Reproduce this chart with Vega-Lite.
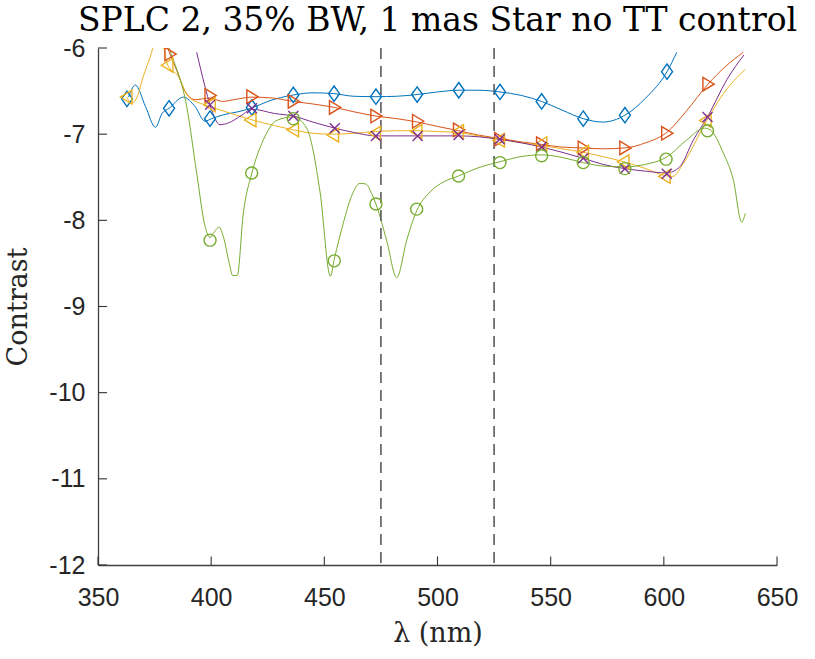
{
  "$schema": "https://vega.github.io/schema/vega-lite/v6.json",
  "width": 679,
  "height": 517,
  "autosize": "none",
  "padding": {"left": 98, "top": 48, "right": 38, "bottom": 94},
  "background": "white",
  "title": {"text": "SPLC 2, 35% BW, 1 mas Star no TT control", "font": "DejaVu Serif", "fontSize": 33, "fontWeight": "normal", "color": "#000000", "anchor": "middle", "offset": -2},
  "datasets": {
    "vlines": [{"x": 475}, {"x": 525}],
    "xticks": [{"t": 350}, {"t": 400}, {"t": 450}, {"t": 500}, {"t": 550}, {"t": 600}, {"t": 650}],
    "yticks": [{"t": -12}, {"t": -11}, {"t": -10}, {"t": -9}, {"t": -8}, {"t": -7}, {"t": -6}],
    "lines": [
      {"s": "a", "x": 363.5, "y": -6.57}, {"s": "a", "x": 366.5, "y": -6.43}, {"s": "a", "x": 371, "y": -6.68}, {"s": "a", "x": 375.4, "y": -6.92}, {"s": "a", "x": 378.3, "y": -6.76}, {"s": "a", "x": 381.4, "y": -6.7}, {"s": "a", "x": 387.7, "y": -6.57}, {"s": "a", "x": 392.9, "y": -6.68}, {"s": "a", "x": 397.3, "y": -6.85}, {"s": "a", "x": 400.2, "y": -6.82}, {"s": "a", "x": 404.7, "y": -6.78}, {"s": "a", "x": 411.9, "y": -6.74}, {"s": "a", "x": 417.6, "y": -6.7}, {"s": "a", "x": 425, "y": -6.62}, {"s": "a", "x": 436.3, "y": -6.545}, {"s": "a", "x": 445, "y": -6.52}, {"s": "a", "x": 454.3, "y": -6.53}, {"s": "a", "x": 463, "y": -6.56}, {"s": "a", "x": 472.8, "y": -6.565}, {"s": "a", "x": 482, "y": -6.56}, {"s": "a", "x": 491, "y": -6.54}, {"s": "a", "x": 500, "y": -6.51}, {"s": "a", "x": 509.4, "y": -6.49}, {"s": "a", "x": 518, "y": -6.49}, {"s": "a", "x": 527.6, "y": -6.51}, {"s": "a", "x": 537, "y": -6.55}, {"s": "a", "x": 546, "y": -6.62}, {"s": "a", "x": 555, "y": -6.72}, {"s": "a", "x": 564.4, "y": -6.82}, {"s": "a", "x": 573, "y": -6.86}, {"s": "a", "x": 582.8, "y": -6.78}, {"s": "a", "x": 592, "y": -6.58}, {"s": "a", "x": 601.4, "y": -6.275}, {"s": "a", "x": 605.7, "y": -6.05},
      {"s": "b", "x": 379.5, "y": -5.9}, {"s": "b", "x": 381.8, "y": -6.07}, {"s": "b", "x": 384.8, "y": -6.26}, {"s": "b", "x": 388.4, "y": -6.5}, {"s": "b", "x": 393, "y": -6.6}, {"s": "b", "x": 399.5, "y": -6.58}, {"s": "b", "x": 405, "y": -6.62}, {"s": "b", "x": 410, "y": -6.6}, {"s": "b", "x": 418, "y": -6.57}, {"s": "b", "x": 427, "y": -6.58}, {"s": "b", "x": 436.3, "y": -6.62}, {"s": "b", "x": 445, "y": -6.65}, {"s": "b", "x": 454.5, "y": -6.69}, {"s": "b", "x": 463, "y": -6.74}, {"s": "b", "x": 472.8, "y": -6.79}, {"s": "b", "x": 482, "y": -6.82}, {"s": "b", "x": 491.2, "y": -6.86}, {"s": "b", "x": 500, "y": -6.91}, {"s": "b", "x": 509.3, "y": -6.96}, {"s": "b", "x": 518, "y": -7.01}, {"s": "b", "x": 527.5, "y": -7.05}, {"s": "b", "x": 537, "y": -7.09}, {"s": "b", "x": 546, "y": -7.12}, {"s": "b", "x": 555, "y": -7.15}, {"s": "b", "x": 564.4, "y": -7.16}, {"s": "b", "x": 573, "y": -7.17}, {"s": "b", "x": 582.8, "y": -7.16}, {"s": "b", "x": 592, "y": -7.1}, {"s": "b", "x": 601.3, "y": -6.98}, {"s": "b", "x": 610, "y": -6.73}, {"s": "b", "x": 619.5, "y": -6.42}, {"s": "b", "x": 627, "y": -6.22}, {"s": "b", "x": 635.1, "y": -6.05},
      {"s": "c", "x": 362.7, "y": -6.57}, {"s": "c", "x": 364.9, "y": -6.64}, {"s": "c", "x": 367.1, "y": -6.58}, {"s": "c", "x": 370, "y": -6.33}, {"s": "c", "x": 373.7, "y": -6.05}, {"s": "c", "x": 376.3, "y": -5.8}, {"s": "c", "x": 378.6, "y": -5.95}, {"s": "c", "x": 380.8, "y": -6.2}, {"s": "c", "x": 385.5, "y": -6.33}, {"s": "c", "x": 389.9, "y": -6.565}, {"s": "c", "x": 397.3, "y": -6.66}, {"s": "c", "x": 399.5, "y": -6.68}, {"s": "c", "x": 407.6, "y": -6.75}, {"s": "c", "x": 417.5, "y": -6.83}, {"s": "c", "x": 428, "y": -6.9}, {"s": "c", "x": 436.3, "y": -6.95}, {"s": "c", "x": 445, "y": -6.99}, {"s": "c", "x": 454, "y": -7.0}, {"s": "c", "x": 463, "y": -6.99}, {"s": "c", "x": 472.5, "y": -6.97}, {"s": "c", "x": 482, "y": -6.96}, {"s": "c", "x": 490.8, "y": -6.96}, {"s": "c", "x": 500, "y": -6.97}, {"s": "c", "x": 509.2, "y": -6.98}, {"s": "c", "x": 518, "y": -7.02}, {"s": "c", "x": 527.3, "y": -7.06}, {"s": "c", "x": 537, "y": -7.1}, {"s": "c", "x": 546, "y": -7.13}, {"s": "c", "x": 555, "y": -7.17}, {"s": "c", "x": 564.4, "y": -7.21}, {"s": "c", "x": 573, "y": -7.26}, {"s": "c", "x": 582.3, "y": -7.32}, {"s": "c", "x": 592, "y": -7.4}, {"s": "c", "x": 600.5, "y": -7.48}, {"s": "c", "x": 604, "y": -7.49}, {"s": "c", "x": 608.6, "y": -7.34}, {"s": "c", "x": 618.6, "y": -6.86}, {"s": "c", "x": 626.3, "y": -6.53}, {"s": "c", "x": 635.9, "y": -6.25},
      {"s": "d", "x": 393.6, "y": -6.05}, {"s": "d", "x": 397.3, "y": -6.45}, {"s": "d", "x": 399.5, "y": -6.66}, {"s": "d", "x": 403.9, "y": -6.89}, {"s": "d", "x": 407.6, "y": -6.87}, {"s": "d", "x": 413.5, "y": -6.78}, {"s": "d", "x": 418, "y": -6.71}, {"s": "d", "x": 428, "y": -6.76}, {"s": "d", "x": 436.3, "y": -6.79}, {"s": "d", "x": 445, "y": -6.86}, {"s": "d", "x": 454.6, "y": -6.93}, {"s": "d", "x": 463, "y": -6.98}, {"s": "d", "x": 472.8, "y": -7.02}, {"s": "d", "x": 482, "y": -7.02}, {"s": "d", "x": 491.2, "y": -7.02}, {"s": "d", "x": 500, "y": -7.02}, {"s": "d", "x": 509.3, "y": -7.02}, {"s": "d", "x": 518, "y": -7.03}, {"s": "d", "x": 527.5, "y": -7.06}, {"s": "d", "x": 537, "y": -7.1}, {"s": "d", "x": 546, "y": -7.15}, {"s": "d", "x": 555, "y": -7.21}, {"s": "d", "x": 564.4, "y": -7.28}, {"s": "d", "x": 573, "y": -7.35}, {"s": "d", "x": 582.8, "y": -7.4}, {"s": "d", "x": 592, "y": -7.43}, {"s": "d", "x": 601.3, "y": -7.45}, {"s": "d", "x": 607, "y": -7.38}, {"s": "d", "x": 613, "y": -7.07}, {"s": "d", "x": 619.3, "y": -6.8}, {"s": "d", "x": 627.8, "y": -6.37}, {"s": "d", "x": 635.4, "y": -6.08},
      {"s": "e", "x": 380, "y": -5.9}, {"s": "e", "x": 382.5, "y": -6.08}, {"s": "e", "x": 389.2, "y": -6.68}, {"s": "e", "x": 393.6, "y": -7.45}, {"s": "e", "x": 397.3, "y": -8.07}, {"s": "e", "x": 399.5, "y": -8.2}, {"s": "e", "x": 401, "y": -8.15}, {"s": "e", "x": 403.5, "y": -8.08}, {"s": "e", "x": 405.4, "y": -8.19}, {"s": "e", "x": 408, "y": -8.5}, {"s": "e", "x": 409.5, "y": -8.64}, {"s": "e", "x": 411.5, "y": -8.64}, {"s": "e", "x": 414.2, "y": -7.92}, {"s": "e", "x": 418, "y": -7.45}, {"s": "e", "x": 423, "y": -7.07}, {"s": "e", "x": 429, "y": -6.84}, {"s": "e", "x": 436.3, "y": -6.8}, {"s": "e", "x": 442.2, "y": -6.93}, {"s": "e", "x": 448.1, "y": -7.67}, {"s": "e", "x": 452.7, "y": -8.65}, {"s": "e", "x": 454.4, "y": -8.45}, {"s": "e", "x": 458.4, "y": -8.03}, {"s": "e", "x": 462, "y": -7.72}, {"s": "e", "x": 465.8, "y": -7.57}, {"s": "e", "x": 468.5, "y": -7.58}, {"s": "e", "x": 470.9, "y": -7.69}, {"s": "e", "x": 472.8, "y": -7.81}, {"s": "e", "x": 477.5, "y": -8.23}, {"s": "e", "x": 482, "y": -8.665}, {"s": "e", "x": 486.4, "y": -8.23}, {"s": "e", "x": 490.8, "y": -7.89}, {"s": "e", "x": 496.7, "y": -7.67}, {"s": "e", "x": 503, "y": -7.55}, {"s": "e", "x": 509.3, "y": -7.485}, {"s": "e", "x": 518, "y": -7.39}, {"s": "e", "x": 527.6, "y": -7.32}, {"s": "e", "x": 537, "y": -7.26}, {"s": "e", "x": 546, "y": -7.24}, {"s": "e", "x": 555, "y": -7.27}, {"s": "e", "x": 564.4, "y": -7.33}, {"s": "e", "x": 573, "y": -7.37}, {"s": "e", "x": 582.8, "y": -7.38}, {"s": "e", "x": 592, "y": -7.35}, {"s": "e", "x": 601, "y": -7.27}, {"s": "e", "x": 610, "y": -7.07}, {"s": "e", "x": 617.9, "y": -6.93}, {"s": "e", "x": 620.5, "y": -6.95}, {"s": "e", "x": 626.3, "y": -7.22}, {"s": "e", "x": 630.7, "y": -7.53}, {"s": "e", "x": 634.4, "y": -8.02}, {"s": "e", "x": 636, "y": -7.92}
    ],
    "markers": [
      {"s": "a", "x": 362.8, "y": -6.59}, {"s": "a", "x": 381.4, "y": -6.7}, {"s": "a", "x": 399.5, "y": -6.82}, {"s": "a", "x": 418, "y": -6.69}, {"s": "a", "x": 436.3, "y": -6.545}, {"s": "a", "x": 454.3, "y": -6.53}, {"s": "a", "x": 472.8, "y": -6.565}, {"s": "a", "x": 491, "y": -6.54}, {"s": "a", "x": 509.4, "y": -6.49}, {"s": "a", "x": 527.6, "y": -6.51}, {"s": "a", "x": 546, "y": -6.62}, {"s": "a", "x": 564.4, "y": -6.82}, {"s": "a", "x": 582.8, "y": -6.78}, {"s": "a", "x": 601.4, "y": -6.275},
      {"s": "b", "x": 381.8, "y": -6.07}, {"s": "b", "x": 399.5, "y": -6.55}, {"s": "b", "x": 418, "y": -6.565}, {"s": "b", "x": 436.3, "y": -6.62}, {"s": "b", "x": 454.5, "y": -6.69}, {"s": "b", "x": 472.8, "y": -6.79}, {"s": "b", "x": 491.2, "y": -6.85}, {"s": "b", "x": 509.3, "y": -6.95}, {"s": "b", "x": 527.5, "y": -7.06}, {"s": "b", "x": 546, "y": -7.11}, {"s": "b", "x": 564.4, "y": -7.16}, {"s": "b", "x": 582.8, "y": -7.16}, {"s": "b", "x": 601.3, "y": -6.99}, {"s": "b", "x": 619.5, "y": -6.42},
      {"s": "c", "x": 362.7, "y": -6.57}, {"s": "c", "x": 380.8, "y": -6.2}, {"s": "c", "x": 399.5, "y": -6.66}, {"s": "c", "x": 417.5, "y": -6.835}, {"s": "c", "x": 436.3, "y": -6.95}, {"s": "c", "x": 454, "y": -7.01}, {"s": "c", "x": 472.5, "y": -6.99}, {"s": "c", "x": 490.8, "y": -6.97}, {"s": "c", "x": 509.2, "y": -6.97}, {"s": "c", "x": 527.3, "y": -7.07}, {"s": "c", "x": 546, "y": -7.11}, {"s": "c", "x": 564.4, "y": -7.21}, {"s": "c", "x": 582.3, "y": -7.32}, {"s": "c", "x": 600.5, "y": -7.49}, {"s": "c", "x": 618.6, "y": -6.84},
      {"s": "d", "x": 399.5, "y": -6.66}, {"s": "d", "x": 418, "y": -6.7}, {"s": "d", "x": 436.3, "y": -6.79}, {"s": "d", "x": 454.6, "y": -6.93}, {"s": "d", "x": 472.8, "y": -7.02}, {"s": "d", "x": 491.2, "y": -7.02}, {"s": "d", "x": 509.3, "y": -7.01}, {"s": "d", "x": 527.5, "y": -7.06}, {"s": "d", "x": 546, "y": -7.15}, {"s": "d", "x": 564.4, "y": -7.28}, {"s": "d", "x": 582.8, "y": -7.4}, {"s": "d", "x": 601.3, "y": -7.46}, {"s": "d", "x": 619.3, "y": -6.8},
      {"s": "e", "x": 399.5, "y": -8.23}, {"s": "e", "x": 417.9, "y": -7.45}, {"s": "e", "x": 436.3, "y": -6.82}, {"s": "e", "x": 454.4, "y": -8.47}, {"s": "e", "x": 472.8, "y": -7.81}, {"s": "e", "x": 490.8, "y": -7.87}, {"s": "e", "x": 509.3, "y": -7.485}, {"s": "e", "x": 527.6, "y": -7.33}, {"s": "e", "x": 546, "y": -7.25}, {"s": "e", "x": 564.4, "y": -7.33}, {"s": "e", "x": 582.8, "y": -7.4}, {"s": "e", "x": 601, "y": -7.29}, {"s": "e", "x": 619.3, "y": -6.96}
    ]
  },
  "layer": [
    {
      "data": {"name": "lines"},
      "mark": {"type": "line", "interpolate": "monotone", "strokeWidth": 1, "clip": true},
      "encoding": {
        "x": {"field": "x", "type": "quantitative", "scale": {"domain": [350, 650], "nice": false, "zero": false},
          "axis": {"values": [350, 400, 450, 500, 550, 600, 650], "labelExpr": "datum.value + ''", "title": "λ (nm)", "ticks": false, "labelPadding": 20, "titlePadding": 10, "labelFlush": false}},
        "y": {"field": "y", "type": "quantitative", "scale": {"domain": [-12, -6], "nice": false, "zero": false},
          "axis": {"values": [-12, -11, -10, -9, -8, -7, -6], "labelExpr": "datum.value + ''", "title": "Contrast", "ticks": false, "labelPadding": 13, "titlePadding": 16}},
        "color": {"field": "s", "type": "nominal", "scale": {"domain": ["a", "b", "c", "d", "e"], "range": ["#0072BD", "#D95319", "#EDB120", "#7E2F8E", "#77AC30"]}, "legend": null},
        "detail": {"field": "s"}
      }
    },
    {
      "data": {"name": "vlines"},
      "mark": {"type": "rule", "stroke": "#5a5a5a", "strokeWidth": 1.6, "strokeDash": [11, 7]},
      "encoding": {
        "x": {"field": "x", "type": "quantitative"}
      }
    },
    {
      "data": {"name": "xticks"},
      "mark": {"type": "rule", "stroke": "#333333", "strokeWidth": 1.1},
      "encoding": {
        "x": {"field": "t", "type": "quantitative"},
        "y": {"datum": -12},
        "y2": {"datum": -11.9}
      }
    },
    {
      "data": {"name": "yticks"},
      "mark": {"type": "rule", "stroke": "#333333", "strokeWidth": 1.1},
      "encoding": {
        "y": {"field": "t", "type": "quantitative"},
        "x": {"datum": 350},
        "x2": {"datum": 354}
      }
    },
    {
      "data": {"name": "markers"},
      "mark": {"type": "point", "filled": false, "strokeWidth": 1.4, "opacity": 1, "clip": true},
      "encoding": {
        "x": {"field": "x", "type": "quantitative"},
        "y": {"field": "y", "type": "quantitative"},
        "color": {"field": "s", "type": "nominal", "legend": null},
        "shape": {"field": "s", "type": "nominal", "scale": {"domain": ["a", "b", "c", "d", "e"], "range": ["M0,-1.4L1,0L0,1.4L-1,0Z", "M-0.9,-1.2L1.1,0L-0.9,1.2Z", "M0.9,-1.2L-1.1,0L0.9,1.2Z", "M-0.85,-0.85L0.85,0.85M-0.85,0.85L0.85,-0.85", "circle"]}, "legend": null},
        "size": {"field": "s", "type": "nominal", "scale": {"domain": ["a", "b", "c", "d", "e"], "range": [121, 144, 144, 121, 175]}, "legend": null}
      }
    }
  ],
  "config": {
    "view": {"stroke": null},
    "axis": {
      "grid": false,
      "domainColor": "#404040",
      "domainWidth": 1.3,
      "labelFont": "Liberation Sans",
      "labelFontSize": 25,
      "labelColor": "#262626",
      "titleFont": "DejaVu Serif",
      "titleFontSize": 27,
      "titleFontWeight": "normal",
      "titleColor": "#262626"
    }
  }
}
